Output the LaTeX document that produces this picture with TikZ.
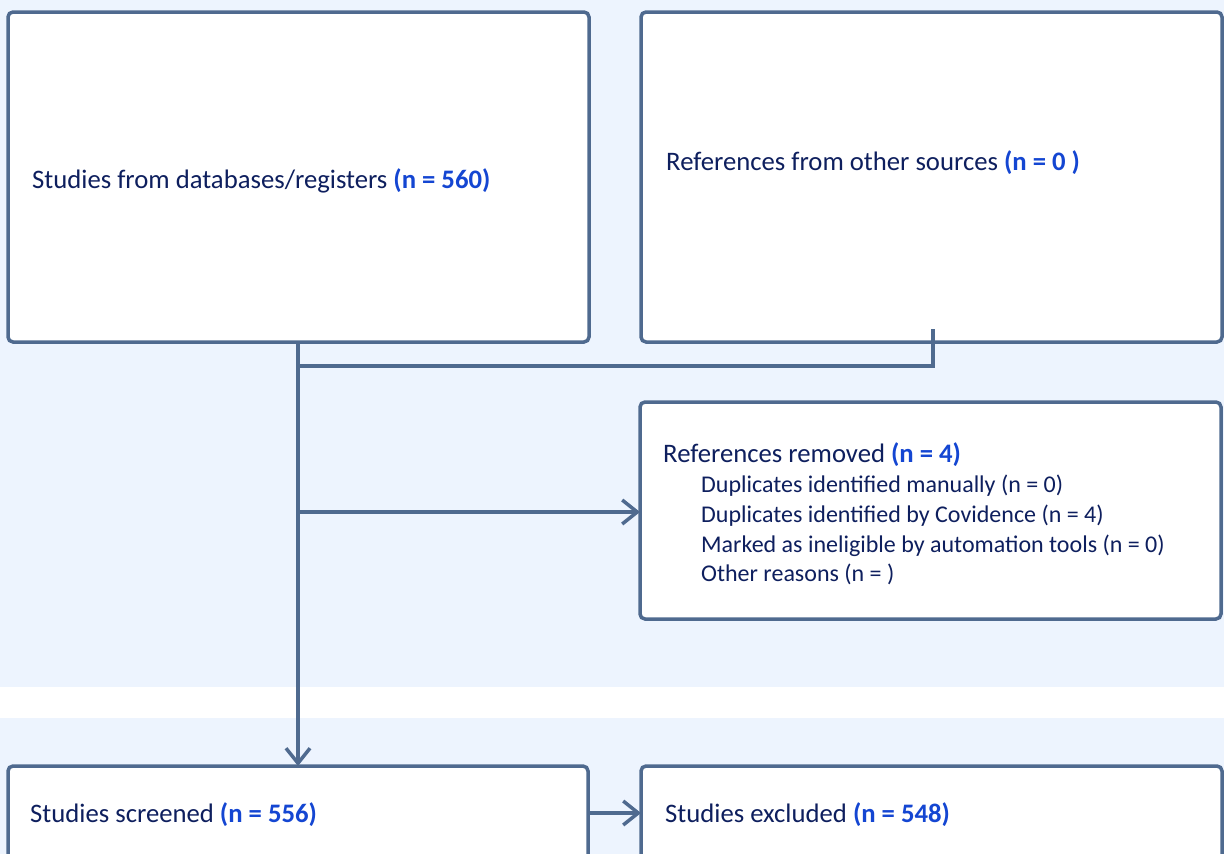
\documentclass[tikz,border=0pt]{standalone}
\usepackage{fontspec}
\setmainfont{Carlito}
\usetikzlibrary{arrows.meta}
\definecolor{bandblue}{HTML}{EDF4FE}
\definecolor{linecol}{HTML}{4F6A8F}
\definecolor{textcol}{HTML}{0E1F5E}
\definecolor{numcol}{HTML}{1446D2}
\newcommand{\num}[1]{\textcolor{numcol}{\bfseries #1}}
\tikzset{
  flowbox/.style={draw=linecol, line width=3.5pt, fill=white, rounded corners=5pt},
  label text/.style={anchor=west, inner sep=0pt, text=textcol, align=left,
    font=\fontsize{26.7}{31}\selectfont},
  sub text/.style={label text, font=\fontsize{24}{29.7}\selectfont},
  flow/.style={draw=linecol, line width=3.5pt},
  flowarrow/.style={flow, -{Straight Barb[length=15pt, width=24pt, line width=3.5pt]}},
}
\begin{document}
\begin{tikzpicture}[x=1pt, y=-1pt]
  \clip (0,0) rectangle (1224,854);
  % background bands
  \fill[bandblue] (0,0) rectangle (1224,687);
  \fill[white] (0,687) rectangle (1224,718);
  \fill[bandblue] (0,718) rectangle (1224,854);

  % boxes
  \draw[flowbox] (8,12) rectangle (589,342);
  \draw[flowbox] (641,12) rectangle (1222,342);
  \draw[flowbox] (640,402) rectangle (1221,619);
  \draw[flowbox] (8,766) rectangle (588,880);
  \draw[flowbox] (641,766) rectangle (1222,880);

  % anchors used by the connectors
  \coordinate (dbBottom) at (298,342);
  \coordinate (otherIn) at (933,329);
  \coordinate (join) at (298,366);
  \coordinate (split) at (298,512);
  \coordinate (removedWest) at (640,512);
  \coordinate (screenTop) at (298,766);
  \coordinate (screenEast) at (588,813);
  \coordinate (excludedWest) at (641,813);

  % texts
  \node[label text] (db) at (32,181) {Studies from databases/registers \num{(n = 560)}};
  \node[label text] (other) at (666,163) {References from other sources \num{(n = 0 )}};
  \node[label text] (removed) at (663,455) {References removed \num{(n = 4)}};
  \node[sub text, anchor=north west] (reasons) at (701,475) {Duplicates identified manually (n = 0)\\
    Duplicates identified by Covidence (n = 4)\\
    Marked as ineligible by automation tools (n = 0)\\
    Other reasons (n = )};
  \node[label text] (screened) at (30,815) {Studies screened \num{(n = 556)}};
  \node[label text] (excluded) at (665,815) {Studies excluded \num{(n = 548)}};

  % connectors
  \draw[flow] (otherIn) -- (otherIn |- join) -- (join);
  \draw[flowarrow] (dbBottom) -- (screenTop);
  \draw[flowarrow] (split) -- (removedWest);
  \draw[flowarrow] (screenEast) -- (excludedWest);
\end{tikzpicture}
\end{document}
